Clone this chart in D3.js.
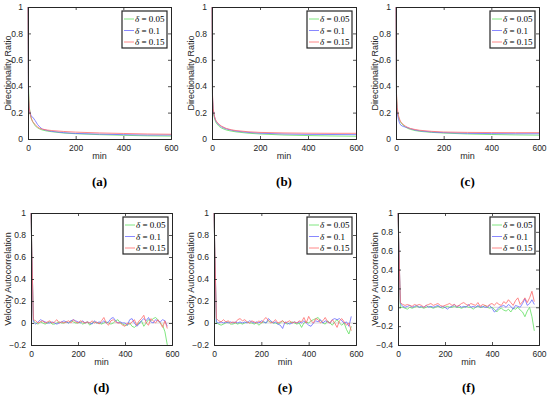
<!DOCTYPE html>
<html>
<head>
<meta charset="utf-8">
<script src="https://cdn.jsdelivr.net/npm/d3@7"></script>
<style>
  body { margin: 0; background: #fff; }
  svg { display: block; }
  .tick text { font-family: "Liberation Sans", Arial, sans-serif; font-size: 8.5px; fill: #262626; }
</style>
</head>
<body>
<svg id="chart" width="550" height="398"></svg>
<script>
// ---- data ----
const deltas = ["0.05", "0.1", "0.15"]
const seriesColors = ["#5fe05f", "#6a6aff", "#ff6a6a"]
const captions = ["(a)", "(b)", "(c)", "(d)", "(e)", "(f)"]
const xTicks = [0, 200, 400, 600]

// directionality ratio, sampled times (min)
const drMin = [0, 2, 5, 10, 15, 20, 30, 40, 50, 60, 80, 100, 150, 200, 300, 400, 500, 600]
const drA = [
  [1, 0.4, 0.25, 0.18, 0.15, 0.13, 0.1, 0.085, 0.075, 0.068, 0.06, 0.055, 0.045, 0.04, 0.033, 0.028, 0.024, 0.022],
  [1, 0.3, 0.22, 0.19, 0.17, 0.165, 0.14, 0.11, 0.09, 0.075, 0.065, 0.058, 0.048, 0.042, 0.037, 0.033, 0.03, 0.03],
  [1, 0.35, 0.24, 0.18, 0.15, 0.13, 0.11, 0.09, 0.08, 0.075, 0.068, 0.064, 0.057, 0.052, 0.046, 0.042, 0.038, 0.036]
]
const drB = [
  [1, 0.3, 0.2, 0.16, 0.13, 0.115, 0.095, 0.083, 0.075, 0.068, 0.06, 0.054, 0.044, 0.038, 0.03, 0.026, 0.023, 0.021],
  [1, 0.32, 0.22, 0.17, 0.14, 0.125, 0.105, 0.092, 0.083, 0.076, 0.067, 0.06, 0.05, 0.044, 0.038, 0.035, 0.034, 0.033],
  [1, 0.34, 0.23, 0.175, 0.145, 0.13, 0.11, 0.097, 0.088, 0.08, 0.07, 0.064, 0.055, 0.05, 0.046, 0.044, 0.043, 0.043]
]
const drC = [
  [1, 0.33, 0.22, 0.17, 0.14, 0.125, 0.105, 0.09, 0.08, 0.073, 0.064, 0.058, 0.05, 0.045, 0.038, 0.034, 0.031, 0.029],
  [1, 0.3, 0.2, 0.15, 0.12, 0.105, 0.095, 0.09, 0.085, 0.078, 0.068, 0.062, 0.053, 0.048, 0.043, 0.041, 0.04, 0.04],
  [1, 0.35, 0.24, 0.18, 0.15, 0.13, 0.11, 0.097, 0.087, 0.08, 0.072, 0.066, 0.058, 0.053, 0.05, 0.049, 0.048, 0.048]
]

// velocity autocorrelation, lag (min)
const vaMin = [
  0, 10, 20, 30, 40, 50, 60, 70, 80, 90,
  100, 110, 120, 130, 140, 150, 160, 170, 180, 190,
  200, 210, 220, 230, 240, 250, 260, 270, 280, 290,
  300, 310, 320, 330, 340, 350, 360, 370, 380, 390,
  400, 410, 420, 430, 440, 450, 460, 470, 480, 490,
  500, 510, 520, 530, 540, 550, 560, 570, 580
]
const vaD = [
  [1, 0.02, 0.0, -0.01, 0.01, 0.0, -0.01, 0.0, 0.01, -0.01,
   -0.01, 0.0, 0.01, 0.0, 0.0, 0.01, 0.0, 0.02, 0.01, 0.0,
   0.0, 0.01, -0.01, 0.0, 0.01, -0.02, 0.0, 0.01, 0.0, 0.0,
   -0.01, 0.0, 0.01, 0.0, -0.01, 0.0, 0.02, 0.03, 0.0, -0.01,
   -0.02, -0.02, 0.0, -0.03, -0.04, -0.02, 0.0, 0.02, -0.03, 0.0,
   0.03, 0.02, 0.04, 0.05, 0.03, 0.0, -0.02, -0.08, -0.2],
  [1, 0.01, -0.01, 0.01, 0.03, 0.02, 0.01, 0.0, 0.0, 0.01,
   0.0, -0.01, 0.0, 0.01, 0.02, 0.01, 0.0, 0.02, 0.03, 0.02,
   0.01, 0.0, 0.02, 0.0, 0.01, 0.0, -0.01, 0.02, 0.0, 0.01,
   0.0, 0.02, 0.0, 0.01, 0.04, 0.05, 0.02, 0.0, 0.01, 0.0,
   0.0, -0.02, 0.03, 0.04, 0.0, -0.03, -0.01, 0.02, 0.04, 0.02,
   0.05, 0.01, 0.0, 0.03, 0.02, 0.01, 0.03, 0.02, -0.03],
  [1, 0.03, 0.02, 0.0, 0.01, 0.02, 0.0, 0.01, 0.02, 0.0,
   0.01, 0.03, 0.0, 0.01, 0.0, 0.01, 0.02, 0.0, 0.03, 0.01,
   0.0, 0.02, 0.01, 0.0, 0.01, 0.0, 0.02, 0.0, 0.01, -0.01,
   0.02, 0.05, 0.0, -0.02, 0.02, 0.03, 0.01, 0.0, 0.0, -0.02,
   -0.03, 0.0, -0.01, 0.01, 0.03, -0.02, 0.02, 0.04, 0.07, 0.0,
   -0.02, 0.04, 0.02, 0.0, 0.03, 0.0, -0.04, 0.02, -0.05]
]
const vaE = [
  [1, 0.0, -0.01, -0.02, -0.01, 0.0, 0.01, -0.01, -0.01, 0.0,
   -0.01, 0.0, -0.01, 0.0, 0.01, 0.0, 0.0, -0.01, 0.0, -0.02,
   0.0, 0.01, 0.0, 0.02, 0.01, 0.0, 0.0, -0.01, 0.0, 0.02,
   0.0, -0.01, 0.0, 0.01, 0.0, -0.01, 0.0, -0.04, 0.0, 0.01,
   0.0, 0.02, 0.03, 0.04, 0.05, 0.02, 0.0, -0.01, 0.02, 0.0,
   -0.02, 0.01, 0.03, 0.0, -0.02, 0.0, -0.06, -0.1, -0.03],
  [1, 0.01, 0.0, 0.01, 0.0, 0.01, 0.0, 0.01, 0.0, 0.01,
   0.0, 0.01, 0.0, 0.01, 0.0, 0.02, 0.01, 0.0, 0.01, 0.0,
   0.02, 0.01, 0.0, 0.04, 0.02, 0.0, 0.01, -0.01, -0.02, -0.05,
   0.01, 0.0, -0.01, 0.0, 0.01, 0.0, 0.01, 0.0, 0.02, 0.0,
   -0.02, -0.03, 0.0, 0.02, 0.01, 0.03, 0.0, 0.02, 0.01, 0.0,
   0.03, 0.04, 0.03, 0.04, 0.02, 0.0, 0.01, -0.03, 0.06],
  [1, 0.04, 0.02, 0.01, 0.03, 0.01, 0.02, 0.0, 0.01, 0.0,
   0.03, 0.04, 0.02, 0.03, 0.01, 0.0, 0.02, 0.01, 0.0, 0.02,
   0.0, 0.03, 0.05, 0.02, 0.0, 0.01, 0.03, 0.0, 0.01, 0.02,
   0.0, 0.01, 0.02, 0.0, 0.01, 0.0, 0.02, 0.01, 0.05, 0.0,
   0.06, 0.02, 0.0, 0.04, 0.03, 0.0, 0.02, 0.05, 0.01, 0.0,
   0.03, 0.0, -0.04, 0.02, 0.04, 0.01, -0.02, 0.0, -0.07]
]
const vaF = [
  [1, 0.0, 0.0, -0.01, -0.02, 0.0, -0.01, 0.0, 0.01, 0.0,
   0.0, -0.01, 0.0, 0.01, 0.0, -0.01, 0.0, 0.01, 0.0, -0.01,
   0.0, 0.01, 0.0, 0.0, 0.01, 0.0, 0.0, -0.01, 0.0, 0.01,
   0.0, 0.0, -0.02, 0.0, 0.01, 0.0, 0.0, 0.02, 0.0, -0.01,
   0.0, -0.02, -0.05, -0.02, -0.01, -0.03, -0.04, -0.02, -0.05, -0.01,
   -0.02, 0.0, -0.03, -0.05, -0.1, -0.04, 0.0, -0.1, -0.25],
  [1, 0.04, 0.01, 0.0, 0.01, 0.02, 0.0, 0.01, 0.02, 0.0,
   0.01, 0.0, 0.02, 0.0, 0.01, 0.0, 0.01, 0.02, 0.0, 0.01,
   0.0, -0.02, 0.0, 0.01, 0.03, 0.0, 0.02, 0.0, 0.01, 0.0,
   0.03, 0.0, 0.01, 0.0, 0.02, 0.0, 0.01, 0.0, 0.0, 0.02,
   -0.01, -0.05, -0.03, 0.0, 0.01, 0.02, 0.0, 0.03, 0.01, -0.02,
   0.02, 0.01, 0.0, 0.04, 0.09, 0.02, 0.04, 0.08, 0.03],
  [1, 0.05, 0.03, 0.02, 0.03, 0.02, 0.01, 0.03, 0.02, 0.03,
   0.02, 0.0, 0.02, 0.03, 0.04, 0.02, 0.03, 0.04, 0.02, 0.01,
   0.02, 0.03, 0.04, 0.02, 0.03, 0.01, 0.02, 0.04, 0.05, 0.03,
   0.02, 0.04, 0.03, 0.02, 0.05, 0.01, 0.03, 0.02, 0.01, 0.03,
   0.04, 0.02, 0.05, 0.03, 0.02, 0.06, 0.04, 0.08, 0.05, 0.02,
   0.07, 0.1, 0.03, 0.06, 0.1, 0.05, 0.1, 0.17, 0.06]
]

const drTicks = [0, 0.2, 0.4, 0.6, 0.8, 1]
const vaTicks = [-0.2, 0, 0.2, 0.4, 0.6, 0.8, 1]
const vaTicksF = [-0.4, -0.2, 0, 0.2, 0.4, 0.6, 0.8, 1]

// ---- layout ----
const panels = [
  { x0: 28, x1: 171, y0: 7, y1: 139, xs: drMin, ys: drA, yDom: [0, 1], yTicks: drTicks, label: "Directionality Ratio", lx: 8 },
  { x0: 212, x1: 356, y0: 7, y1: 139, xs: drMin, ys: drB, yDom: [0, 1], yTicks: drTicks, label: "Directionality Ratio", lx: 191 },
  { x0: 396, x1: 539, y0: 7, y1: 139, xs: drMin, ys: drC, yDom: [0, 1], yTicks: drTicks, label: "Directionality Ratio", lx: 375 },
  { x0: 31, x1: 172, y0: 213, y1: 345, xs: vaMin, ys: vaD, yDom: [-0.2, 1], yTicks: vaTicks, label: "Velocity Autocorrelation", lx: 8, zero: true },
  { x0: 214, x1: 356, y0: 213, y1: 345, xs: vaMin, ys: vaE, yDom: [-0.2, 1], yTicks: vaTicks, label: "Velocity Autocorrelation", lx: 191, zero: true },
  { x0: 398, x1: 539, y0: 213, y1: 345, xs: vaMin, ys: vaF, yDom: [-0.4, 1], yTicks: vaTicksF, label: "Velocity Autocorrelation", lx: 375, zero: true }
]

const svg = d3.select("#chart")
const axisColor = "#262626"
const fmt = d => (d === 0 ? "0" : d3.format("")(+d.toFixed(1)))

panels.forEach((p, i) => {
  const x = d3.scaleLinear().domain([0, 600]).range([p.x0, p.x1])
  const y = d3.scaleLinear().domain(p.yDom).range([p.y1, p.y0])
  const g = svg.append("g")

  // zero reference line
  if (p.zero) {
    g.append("line")
      .attr("x1", p.x0).attr("x2", p.x1)
      .attr("y1", y(0)).attr("y2", y(0))
      .attr("stroke", "#c8c8c8").attr("stroke-width", 0.7)
  }

  // series
  const line = d3.line().x((d, k) => x(p.xs[k])).y(d => y(d))
  p.ys.forEach((vals, s) => {
    g.append("path")
      .datum(vals)
      .attr("fill", "none")
      .attr("stroke", seriesColors[s])
      .attr("stroke-width", 0.8)
      .attr("d", line)
  })

  // axes (ticks inward on all sides)
  const ax = (gen, tr) => g.append("g").attr("transform", tr).call(gen)
  const bottom = ax(d3.axisBottom(x).tickValues(xTicks).tickSize(-3).tickPadding(6).tickFormat(d3.format("d")), `translate(0,${p.y1})`)
  const top = ax(d3.axisTop(x).tickValues(xTicks).tickSize(-3).tickFormat(""), `translate(0,${p.y0})`)
  const left = ax(d3.axisLeft(y).tickValues(p.yTicks).tickSize(-3).tickPadding(5).tickFormat(fmt), `translate(${p.x0},0)`)
  const right = ax(d3.axisRight(y).tickValues(p.yTicks).tickSize(-3).tickFormat(""), `translate(${p.x1},0)`)
  ;[bottom, top, left, right].forEach(a => {
    a.selectAll("path.domain").attr("stroke", axisColor).attr("stroke-width", 1)
    a.selectAll(".tick line").attr("stroke", axisColor).attr("stroke-width", 0.8)
  })

  // axis labels
  g.append("text")
    .attr("x", (p.x0 + p.x1) / 2).attr("y", p.y1 + 20)
    .attr("text-anchor", "middle")
    .style("font-family", "Liberation Sans, Arial, sans-serif").style("font-size", "9px").attr("fill", axisColor)
    .text("min")
  g.append("text")
    .attr("transform", `translate(${p.lx},${(p.y0 + p.y1) / 2}) rotate(-90)`)
    .attr("text-anchor", "middle").attr("dy", "0.35em")
    .style("font-family", "Liberation Sans, Arial, sans-serif").style("font-size", "9px").attr("fill", axisColor)
    .text(p.label)

  // legend
  const lw = 45, lh = 37
  const lg = g.append("g").attr("transform", `translate(${p.x1 - lw - 4},${p.y0 + 4})`)
  lg.append("rect").attr("width", lw).attr("height", lh)
    .attr("fill", "#fff").attr("stroke", axisColor).attr("stroke-width", 1.2)
  deltas.forEach((d, s) => {
    const ly = 8 + s * 11.5
    lg.append("line").attr("x1", 2).attr("x2", 12).attr("y1", ly).attr("y2", ly)
      .attr("stroke", seriesColors[s]).attr("stroke-width", 0.8)
    const t = lg.append("text").attr("x", 13).attr("y", ly + 3)
      .style("font-family", "Liberation Serif, Times New Roman, serif").style("font-size", "9px").attr("fill", "#000")
    t.append("tspan").style("font-style", "italic").text("δ")
    t.append("tspan").text(" = " + d)
  })

  // caption
  svg.append("text")
    .attr("x", (p.x0 + p.x1) / 2).attr("y", p.y1 + 47)
    .attr("text-anchor", "middle")
    .style("font-family", "Liberation Serif, Times New Roman, serif").style("font-size", "13px").style("font-weight", "bold")
    .attr("fill", "#000")
    .text(captions[i])
})
</script>
</body>
</html>
